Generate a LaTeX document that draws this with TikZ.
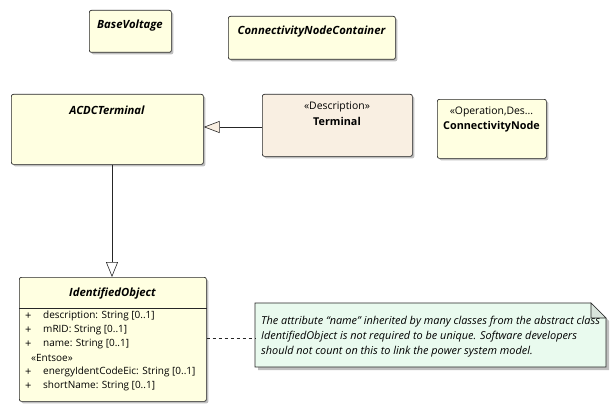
\documentclass[tikz,border=0pt]{standalone}
\usepackage{fontspec}
\setmainfont{Open Sans}
\usetikzlibrary{shadows,arrows.meta}
\definecolor{clsfill}{HTML}{FFFFE1}
\definecolor{termfill}{HTML}{F9EFE2}
\definecolor{notefill}{HTML}{E9FAEE}
\definecolor{foldfill}{HTML}{D9E4DC}
\begin{document}
\begin{tikzpicture}[x=1pt,y=-1pt,
  box/.style={draw=black!85, line width=0.7pt, rounded corners=2pt, inner sep=0pt, anchor=north west,
    drop shadow={shadow xshift=2pt, shadow yshift=-2pt, opacity=0.25, fill=black}},
  cls/.style={box, fill=clsfill},
  term/.style={box, fill=termfill},
  ttl/.style={font=\fontsize{11.3}{13}\selectfont\bfseries\itshape, inner sep=0pt},
  nm/.style={font=\fontsize{10.8}{13}\selectfont\bfseries, inner sep=0pt},
  st/.style={font=\fontsize{10.4}{13}\selectfont, inner sep=0pt},
  attr/.style={font=\fontsize{10}{12}\selectfont, inner sep=0pt, anchor=west},
  gen/.style={draw=black!85, line width=0.6pt, -{Triangle[open, length=15pt, width=12pt, fill=white]}},
  genb/.style={draw=black!85, line width=0.6pt, -{Triangle[length=16pt, width=12pt, fill=termfill]}},
]
\useasboundingbox (0,0) rectangle (616,412);

\node[cls, minimum width=82pt, minimum height=42pt] (bv) at (89,10) {};
\node[ttl] (bvt) at (130,26) {BaseVoltage};

\node[cls, minimum width=167pt, minimum height=43pt] (cnc) at (228,16) {};
\node[ttl] (cnct) at (311.5,32) {ConnectivityNodeContainer};

\node[cls, minimum width=192pt, minimum height=70pt] (acdc) at (11,94) {};
\node[ttl] (acdct) at (107,110) {ACDCTerminal};

\node[term, minimum width=150pt, minimum height=62pt] (term) at (262,94) {};
\node[st] (terms) at (337,107) {«Description»};
\node[nm] (termt) at (337,121) {Terminal};

\node[cls, minimum width=109pt, minimum height=59pt] (cn) at (437,99) {};
\node[st] (cns) at (491.5,112) {«Operation,Des...};
\node[nm] (cnt) at (491.5,127) {ConnectivityNode};

\node[cls, minimum width=187pt, minimum height=124pt] (ido) at (19,277) {};
\draw[draw=black!85, line width=0.6pt] (ido.west |- 0,308) coordinate (sepl) -- (ido.east |- 0,308) coordinate (sepr);
\node[ttl] (idot) at (112.5,294) {IdentifiedObject};
\node[attr, font=\fontsize{11}{12}\selectfont] (p1) at (25,316) {+};
\node[attr] (a1) at (43,316) {description: String [0..1]};
\node[attr, font=\fontsize{11}{12}\selectfont] (p2) at (25,330) {+};
\node[attr] (a2) at (43,330) {mRID: String [0..1]};
\node[attr, font=\fontsize{11}{12}\selectfont] (p3) at (25,344) {+};
\node[attr] (a3) at (43,344) {name: String [0..1]};
\node[attr] (ent) at (31,358) {«Entsoe»};
\node[attr, font=\fontsize{11}{12}\selectfont] (p4) at (25,372) {+};
\node[attr] (a4) at (43,372) {energyIdentCodeEic: String [0..1]};
\node[attr, font=\fontsize{11}{12}\selectfont] (p5) at (25,386) {+};
\node[attr] (a5) at (43,386) {shortName: String [0..1]};

% note
\fill[black, opacity=0.25] (258,306) -- (594,306) -- (609,321) -- (609,370) -- (258,370) -- cycle;
\draw[draw=black!85, line width=0.6pt, fill=notefill] (255,303) -- (591,303) -- (606,318) -- (606,367) -- (255,367) -- cycle;
\draw[draw=black!85, line width=0.6pt, fill=foldfill] (591,303) -- (591,318) -- (606,318) -- cycle;
\node[inner sep=0pt, anchor=north west, minimum width=351pt, minimum height=64pt] (note) at (255,303) {};
\node[font=\fontsize{10.9}{15.2}\selectfont\itshape, align=left, anchor=north west, inner sep=0pt] (notet) at (261,316)
 {The attribute “name” inherited by many classes from the abstract class\\
  IdentifiedObject is not required to be unique. Software developers\\
  should not count on this to link the power system model.};

% connectors
\draw[gen] (acdc.south -| 112,0) -- (ido.north -| 112,0);
\draw[genb] (term.west |- 0,127) -- (acdc.east |- 0,127);
\draw[dashed, draw=black!85, line width=0.6pt, dash pattern=on 3pt off 3pt] (ido.east |- 0,338) -- (note.west |- 0,338);
\end{tikzpicture}
\end{document}
